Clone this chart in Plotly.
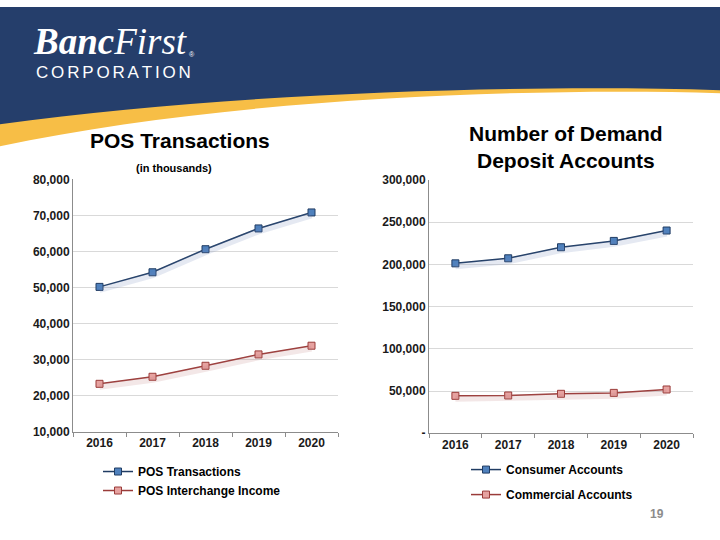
import plotly.graph_objects as go

# ---------------- data ----------------
years = ["2016", "2017", "2018", "2019", "2020"]
pos_transactions = [50200, 54250, 60640, 66400, 70830]
pos_interchange = [23330, 25280, 28330, 31480, 33890]
consumer_accounts = [201300, 207300, 220400, 227900, 240200]
commercial_accounts = [44300, 44700, 46700, 47800, 51800]

left_ticks = [10000, 20000, 30000, 40000, 50000, 60000, 70000, 80000]
left_ticktext = ["10,000", "20,000", "30,000", "40,000", "50,000", "60,000", "70,000", "80,000"]
right_ticks = [0, 50000, 100000, 150000, 200000, 250000, 300000]
right_ticktext = ["-", "50,000", "100,000", "150,000", "200,000", "250,000", "300,000"]

W, H = 720, 540
def px(x):
    return x / W
def fy(y):
    # page position -> figure pixel position (compensates for capture framing)
    return (y - 8) / 0.972
def py(y):
    return 1 - fy(y) / H
def pyf(y):
    return 1 - y / H

FONT = "Liberation Sans, Arial, sans-serif"
BLUE_LINE = "#203C63"
BLUE_FILL = "#4F81BD"
RED_LINE = "#9A3B39"
RED_FILL = "#E6A2A0"
SHADOW_B = "rgba(110,135,185,0.18)"
SHADOW_R = "rgba(190,120,120,0.18)"

fig = go.Figure()

# shadows (drawn first)
fig.add_trace(go.Scatter(x=years, y=pos_transactions, xaxis="x", yaxis="y3", mode="lines",
                         line=dict(color=SHADOW_B, width=6), showlegend=False, hoverinfo="skip"))
fig.add_trace(go.Scatter(x=years, y=pos_interchange, xaxis="x", yaxis="y3", mode="lines",
                         line=dict(color=SHADOW_R, width=6), showlegend=False, hoverinfo="skip"))
fig.add_trace(go.Scatter(x=years, y=consumer_accounts, xaxis="x2", yaxis="y4", mode="lines",
                         line=dict(color=SHADOW_B, width=6), showlegend=False, hoverinfo="skip"))
fig.add_trace(go.Scatter(x=years, y=commercial_accounts, xaxis="x2", yaxis="y4", mode="lines",
                         line=dict(color=SHADOW_R, width=6), showlegend=False, hoverinfo="skip"))

mk_b = dict(symbol="square", size=7, color=BLUE_FILL, line=dict(color=BLUE_LINE, width=1))
mk_r = dict(symbol="square", size=7, color=RED_FILL, line=dict(color=RED_LINE, width=1))

fig.add_trace(go.Scatter(x=years, y=pos_transactions, name="POS Transactions", xaxis="x", yaxis="y",
                         mode="lines+markers", line=dict(color=BLUE_LINE, width=1.5), marker=mk_b,
                         legend="legend"))
fig.add_trace(go.Scatter(x=years, y=pos_interchange, name="POS Interchange Income", xaxis="x", yaxis="y",
                         mode="lines+markers", line=dict(color=RED_LINE, width=1.5), marker=mk_r,
                         legend="legend"))
fig.add_trace(go.Scatter(x=years, y=consumer_accounts, name="Consumer Accounts", xaxis="x2", yaxis="y2",
                         mode="lines+markers", line=dict(color=BLUE_LINE, width=1.5), marker=mk_b,
                         legend="legend2", legendgroup="a"))
fig.add_trace(go.Scatter(x=years, y=commercial_accounts, name="Commercial Accounts", xaxis="x2", yaxis="y2",
                         mode="lines+markers", line=dict(color=RED_LINE, width=1.5), marker=mk_r,
                         legend="legend2", legendgroup="b"))

tickfont = dict(family=FONT, size=12, color="#1a1a1a", weight="bold")
xcommon = dict(type="category", range=[-0.5, 4.5], showgrid=False, showline=True, linecolor="#8C8C8C",
               linewidth=1, ticks="outside", tickson="boundaries", ticklen=4, tickcolor="#8C8C8C",
               tickfont=tickfont, fixedrange=True)
ycommon = dict(showgrid=True, gridcolor="#D9D9D9", gridwidth=1, showline=True, linecolor="#8C8C8C",
               linewidth=1, ticks="", tickfont=tickfont, zeroline=False, fixedrange=True)

L_dom = [py(432), py(180)]
R_dom = [py(433.3), py(180.7)]
sh = 3 / H

def P(x, y):
    return f"{px(x)},{py(y)}"

# shapes: banner
shapes = [
    dict(type="path", xref="paper", yref="paper", layer="below",
         path=f"M {px(0)},1 L {px(720)},1 L {P(720, 94)} "
              f"C {P(520, 88)} {P(220, 100)} {P(0, 147)} Z",
         fillcolor="#F7BE46", line=dict(width=0)),
    dict(type="path", xref="paper", yref="paper", layer="below",
         path=f"M {px(0)},1 L {px(720)},1 L {P(720, 91)} "
              f"C {P(540, 85)} {P(240, 92)} {P(0, 125)} Z",
         fillcolor="#253E6B", line=dict(width=0)),
]

annotations = [
    dict(text="<b>Banc</b>First", x=px(31), y=py(42), xref="paper", yref="paper",
         xanchor="left", yanchor="middle", showarrow=False,
         font=dict(family="Liberation Serif, serif", size=37, color="white", style="italic")),
    dict(text="®", x=px(187), y=py(55), xref="paper", yref="paper", xanchor="left", yanchor="middle",
         showarrow=False, font=dict(family=FONT, size=7, color="white")),
    dict(text="\u2006".join("CORPORATION"), x=px(34), y=py(73.5), xref="paper", yref="paper",
         xanchor="left", yanchor="middle", showarrow=False,
         font=dict(family=FONT, size=17, color="white")),
    dict(text="<b>POS Transactions</b>", x=px(180), y=py(141), xref="paper", yref="paper",
         xanchor="center", yanchor="middle", showarrow=False,
         font=dict(family=FONT, size=21, color="black")),
    dict(text="<b>(in thousands)</b>", x=px(174), y=py(169), xref="paper", yref="paper",
         xanchor="center", yanchor="middle", showarrow=False,
         font=dict(family=FONT, size=11, color="black")),
    dict(text="<b>Number of Demand<br>Deposit Accounts</b>", x=px(566), y=py(148), xref="paper", yref="paper",
         xanchor="center", yanchor="middle", showarrow=False, align="center",
         font=dict(family=FONT, size=21, color="black")),
    dict(text="<b>19</b>", x=px(657), y=py(514), xref="paper", yref="paper",
         xanchor="center", yanchor="middle", showarrow=False,
         font=dict(family=FONT, size=12, color="#8C8C8C")),
]

fig.update_layout(
    width=W, height=H, margin=dict(l=0, r=0, t=0, b=0, pad=0),
    paper_bgcolor="white", plot_bgcolor="rgba(0,0,0,0)",
    xaxis=dict(domain=[px(73), px(338)], anchor="y", **xcommon),
    yaxis=dict(domain=L_dom, anchor="x", range=[10000, 80000], tickvals=left_ticks,
               ticktext=left_ticktext, **ycommon),
    xaxis2=dict(domain=[px(429), px(693)], anchor="y2", **xcommon),
    yaxis2=dict(domain=R_dom, anchor="x2", range=[0, 300000], tickvals=right_ticks,
                ticktext=right_ticktext, **ycommon),
    yaxis3=dict(domain=[L_dom[0] - sh, L_dom[1] - sh], anchor="x", range=[10000, 80000],
                visible=False, fixedrange=True),
    yaxis4=dict(domain=[R_dom[0] - sh, R_dom[1] - sh], anchor="x2", range=[0, 300000],
                visible=False, fixedrange=True),
    legend=dict(x=px(98), y=pyf(462), xanchor="left", yanchor="top", bgcolor="rgba(0,0,0,0)",
                font=dict(family=FONT, size=12, color="black", weight="bold"),
                itemwidth=30, tracegroupgap=0),
    legend2=dict(x=px(466), y=pyf(460), xanchor="left", yanchor="top", bgcolor="rgba(0,0,0,0)",
                 font=dict(family=FONT, size=12, color="black", weight="bold"),
                 itemwidth=30, tracegroupgap=6),
    shapes=shapes, annotations=annotations, showlegend=True,
)

fig.write_html(
    "out.html", config={"displayModeBar": False, "responsive": False},
    post_script=("document.body.style.margin='0';document.body.style.overflow='hidden';"
                 "var d=document.getElementById('{plot_id}');"
                 "d.style.position='fixed';d.style.top='0px';d.style.left='0px';"),
)
